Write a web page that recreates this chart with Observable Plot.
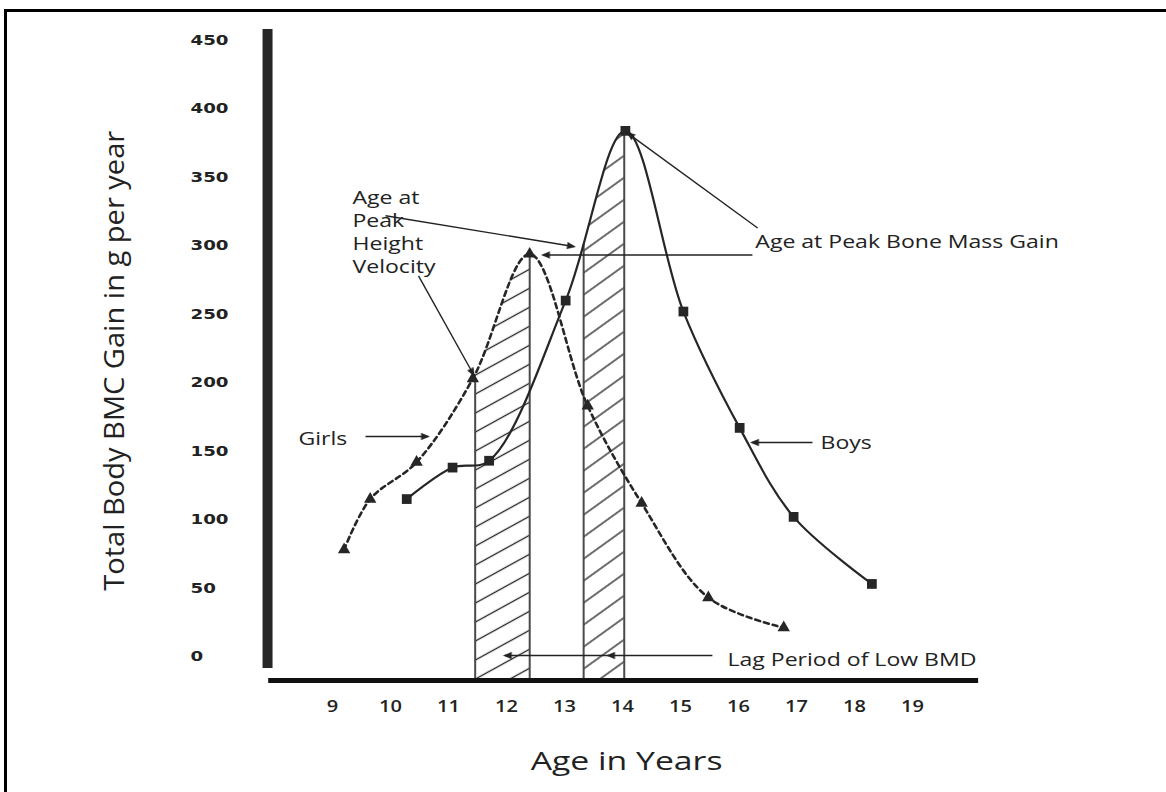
<!DOCTYPE html>
<html><head><meta charset="utf-8">
<script src="https://cdn.jsdelivr.net/npm/d3@7"></script>
<script src="https://cdn.jsdelivr.net/npm/@observablehq/plot@0.6"></script>
<style>
html,body{margin:0;padding:0;background:#fff;}
#wrap{position:relative;width:1166px;height:792px;overflow:hidden;}
#frame{position:absolute;left:4px;top:9px;width:1200px;height:900px;border-left:3px solid #000;border-top:3px solid #000;}
#chart{position:absolute;left:0;top:0;}
</style></head><body>
<div id="wrap"><div id="frame"></div><div id="chart"></div></div>
<script>
// ---- data ----
const girlsAge  = [9.2, 9.65, 10.45, 11.42, 12.4, 13.4, 14.33, 15.48, 16.78];
const girlsGain = [78, 115, 142, 203, 294, 183, 112, 43, 21];
const boysAge   = [10.28, 11.07, 11.7, 13.02, 14.05, 15.05, 16.02, 16.95, 18.3];
const boysGain  = [115, 138, 143, 260, 384, 252, 167, 102, 53];
const xTicks = [9, 10, 11, 12, 13, 14, 15, 16, 17, 18, 19];
const yTicks = [0, 50, 100, 150, 200, 250, 300, 350, 400, 450];
const lagSex   = ["girls", "boys"];
const lagStart = [11.46, 13.33];
const lagEnd   = [12.4, 14.03];
const lagStartTop = [203, 301];
const lagEndTop   = [294, 384];
const noteText = ["Age at\nPeak\nHeight\nVelocity", "Age at Peak Bone Mass Gain", "Girls", "Boys", "Lag Period of Low BMD"];
const noteAge  = [9.345, 16.29, 8.414, 17.414, 15.81];
const noteGain = [311, 304, 160, 157, -1.5];
const ptrFromAge  = [9.914, 10.483, 16.33, 16.24, 9.569, 17.276, 15.55, 13.76];
const ptrFromGain = [322, 278, 313, 293.3, 160.7, 156.3, 0.7, 0.7];
const ptrToAge    = [13.155, 11.431, 14.10, 12.638, 10.638, 16.241, 13.76, 11.98];
const ptrToGain   = [299.5, 206, 382, 293.3, 160.7, 156.3, 0.7, 0.7];
const xTitle = "Age in Years";
const yTitle = "Total Body BMC Gain in g per year";

const floorGain = -17.5;   // level of the drawn x baseline
const ink = "#262626";

// ---- tables built from the arrays ----
const girls = girlsAge.map((age, i) => ({age, gain: girlsGain[i], base: floorGain}));
const boys = boysAge.map((age, i) => ({age, gain: boysGain[i], base: floorGain}));
const lags = lagSex.map((sex, i) => ({sex, start: lagStart[i], end: lagEnd[i], startTop: lagStartTop[i], endTop: lagEndTop[i], base: floorGain}));
const notes = noteText.map((text, i) => ({text, age: noteAge[i], gain: noteGain[i]}));
const ptrs = ptrFromAge.map((a, i) => ({x1: a, y1: ptrFromGain[i], x2: ptrToAge[i], y2: ptrToGain[i]}));

const plot = Plot.plot({
  width: 1166, height: 792,
  marginTop: 40, marginBottom: 136, marginLeft: 274, marginRight: 196,
  x: {domain: [8, 20], label: null},
  y: {domain: [0, 450], label: null},
  style: {fontFamily: "'Open Sans', sans-serif", background: "transparent", overflow: "visible"},
  marks: [
    Plot.area(girls, {x1: "age", y1: "base", y2: "gain", curve: "catmull-rom", fill: "#999"}),
    Plot.area(boys, {x1: "age", y1: "base", y2: "gain", curve: "catmull-rom", fill: "#999"}),
    Plot.ruleX(lags, {x: "start", y1: "base", y2: "startTop", stroke: "#4a4a4a", strokeWidth: 2}),
    Plot.ruleX(lags, {x: "end", y1: "base", y2: "endTop", stroke: "#4a4a4a", strokeWidth: 2}),
    Plot.line(girls, {x: "age", y: "gain", curve: "catmull-rom", stroke: ink, strokeWidth: 2.6, strokeDasharray: "5,4"}),
    Plot.line(boys, {x: "age", y: "gain", curve: "catmull-rom", stroke: ink, strokeWidth: 2.2}),
    Plot.dot(girls, {x: "age", y: "gain", symbol: "triangle", r: 4.6, fill: ink}),
    Plot.dot(boys, {x: "age", y: "gain", symbol: "square", r: 5.5, fill: ink}),
    Plot.link(ptrs, {x1: "x1", y1: "y1", x2: "x2", y2: "y2", stroke: "#222", strokeWidth: 1.4, markerEnd: "arrow"}),
    Plot.text(notes, {x: "age", y: "gain", text: "text", textAnchor: "start", lineAnchor: "middle", lineHeight: 1.28, fontSize: 18, fill: "#222"}),
    Plot.ruleY([floorGain], {x1: 7.9, x2: 20.14, stroke: "#111", strokeWidth: 5}),
    Plot.ruleX([7.88], {y1: -8.8, y2: 458, stroke: ink, strokeWidth: 10}),
    Plot.axisX(xTicks, {tickSize: 0, tickPadding: 44, fontSize: 16, fontWeight: 600, fill: "#222", label: null}),
    Plot.axisY(yTicks, {tickSize: 0, tickPadding: 84, textAnchor: "start", fontSize: 14, fontWeight: "bold", fontFamily: "'DejaVu Sans', sans-serif", fill: "#222", label: null}),
    Plot.text([xTitle], {x: 14.07, y: -77.4, text: d => d, fontSize: 25, fill: "#222"}),
    Plot.text([yTitle], {x: 5.26, y: 216, text: d => d, rotate: -90, fontSize: 27, fill: "#222"})
  ]
});

document.getElementById("chart").appendChild(plot);
function step(fn) { try { fn(); } catch (e) { console.error(e); } }

const svg = d3.select(plot);
const defs = svg.insert("defs", ":first-child");
const areaGroups = plot.querySelectorAll('g[aria-label="area"]');
const textGroups = plot.querySelectorAll('g[aria-label="text"]');

function hatch(id, slope, spacing) {
  const a = Math.atan(slope);
  const d = spacing * Math.cos(a);
  const p = defs.append("pattern").attr("id", id).attr("patternUnits", "userSpaceOnUse")
    .attr("width", 10).attr("height", d).attr("patternTransform", `rotate(${-a * 180 / Math.PI})`);
  p.append("line").attr("x1", -1).attr("x2", 11).attr("y1", d / 2).attr("y2", d / 2)
    .attr("stroke", "#1e1e1e").attr("stroke-width", 1.3);
}
step(() => { hatch("hatch-girls", 0.55, 19); hatch("hatch-boys", 0.72, 22); });

// hatch only the lag periods: clip each area to its period through the x scale
step(() => {
  const sx = plot.scale("x");
  lags.forEach((p, i) => {
    const a = sx.apply(p.start), b = sx.apply(p.end);
    defs.append("clipPath").attr("id", "clip-" + p.sex)
      .append("rect").attr("x", a).attr("width", b - a).attr("y", 0).attr("height", 792);
    const g = d3.select(areaGroups[i]);
    g.attr("fill", `url(#hatch-${p.sex})`).attr("clip-path", `url(#clip-${p.sex})`);
    g.selectAll("path").attr("fill", `url(#hatch-${p.sex})`);
  });
});

// filled arrow heads
step(() => {
  svg.selectAll("marker").attr("stroke", null).attr("fill", null).attr("overflow", "visible")
    .selectAll("path").attr("d", "M-6.5,-3.4L2,0L-6.5,3.4Z").attr("fill", "#222").attr("stroke", "#222").attr("stroke-width", 0.5);
});

// widen glyphs the way the reference's text is widened
function stretch(sel, s) {
  sel.each(function () {
    const ts = this.querySelectorAll("tspan");
    const els = ts.length ? Array.from(ts) : [this];
    els.forEach(el => {
      const L = el.getComputedTextLength();
      el.setAttribute("textLength", L * s);
      el.setAttribute("lengthAdjust", "spacingAndGlyphs");
    });
  });
}
step(() => {
  stretch(d3.select(textGroups[0]).selectAll("text"), 1.28);
  stretch(svg.selectAll('g[aria-label="x-axis tick label"] text'), 1.25);
  stretch(svg.selectAll('g[aria-label="y-axis tick label"] text'), 1.3);
  stretch(d3.select(textGroups[1]).selectAll("text"), 1.35);
  d3.select(textGroups[2]).selectAll("text").each(function () {
    this.setAttribute("textLength", 460);
    this.setAttribute("lengthAdjust", "spacingAndGlyphs");
  });
});
</script>
</body></html>
